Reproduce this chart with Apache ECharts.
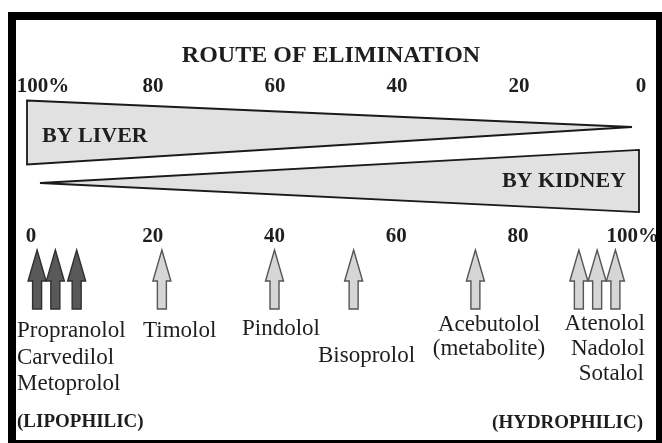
<!DOCTYPE html>
<html>
<head>
<meta charset="utf-8">
<script src="https://cdn.jsdelivr.net/npm/echarts@6/dist/echarts.min.js"></script>
<style>
  html, body { margin: 0; padding: 0; background: #fff; }
  #main { width: 662px; height: 443px; }
</style>
</head>
<body>
<div id="main"></div>
<script>
// bottom scale: % eliminated by the kidney
const drugs = ['Propranolol', 'Carvedilol', 'Metoprolol', 'Timolol', 'Pindolol',
  'Bisoprolol', 'Acebutolol', 'Atenolol', 'Nadolol', 'Sotalol']
const renalPct = [1, 4, 7.5, 21.5, 40, 53, 73, 90, 93, 96]
const lipophilic = [true, true, true, false, false, false, false, false, false, false]

// wedges, top scale (% by liver) at the two ends
const liverPct = [100, 0]
const liverBand = [100, 0]
const kidneyBand = [0, 100]

const tickValues = [0, 20, 40, 60, 80, 100]

const serif = 'Liberation Serif, Times New Roman, serif'
const ink = '#1e1e1e'

// where each name sits: [x, y, align]
const nameLayout = {
  Propranolol: [17, 331, 'left'],
  Carvedilol: [17, 358, 'left'],
  Metoprolol: [17, 384, 'left'],
  Timolol: [143, 331, 'left'],
  Pindolol: [242, 329, 'left'],
  Bisoprolol: [318, 356, 'left'],
  Acebutolol: [489, 325, 'center'],
  Atenolol: [645, 324, 'right'],
  Nadolol: [645, 349, 'right'],
  Sotalol: [644, 374, 'right'],
}
const nameText = { Acebutolol: 'Acebutolol\n(metabolite)' }

var myChart = echarts.init(document.getElementById('main'))

function tickLabel(v) {
  if (tickValues.indexOf(v) < 0) return ''
  return v === 100 ? '{p|100%}' : String(v)
}

const axisLabelBase = {
  fontFamily: serif, fontSize: 21, fontWeight: 'bold', color: ink, margin: 3,
}

var option = {
  animation: false,
  backgroundColor: '#fff',
  title: {
    text: 'ROUTE OF ELIMINATION',
    left: 'center',
    top: 39,
    textStyle: { fontFamily: serif, fontSize: 24, fontWeight: 'bold', color: ink },
  },
  grid: [
    { left: 31, right: 21, top: 100, height: 64 },
    { left: 31, right: 21, top: 250, height: 60 },
  ],
  xAxis: [
    {
      gridIndex: 0, type: 'value', min: 0, max: 100, interval: 20, inverse: true, position: 'top',
      axisLine: { show: false }, axisTick: { show: false }, splitLine: { show: false },
      axisLabel: Object.assign({}, axisLabelBase, {
        formatter: tickLabel,
        rich: { p: { fontFamily: serif, fontSize: 21, fontWeight: 'bold', color: ink, padding: [0, 0, 0, 24] } },
      }),
    },
    {
      gridIndex: 1, type: 'value', min: 0, max: 100, interval: 20, position: 'top',
      axisLine: { show: false }, axisTick: { show: false }, splitLine: { show: false },
      axisLabel: Object.assign({}, axisLabelBase, {
        formatter: tickLabel,
        rich: { p: { fontFamily: serif, fontSize: 21, fontWeight: 'bold', color: ink, padding: [0, 14, 0, 0] } },
      }),
    },
  ],
  yAxis: [
    { gridIndex: 0, type: 'value', min: 0, max: 100, show: false },
    { gridIndex: 1, type: 'value', min: 0, max: 1, show: false },
  ],
  series: [
    {
      name: 'By liver',
      type: 'custom',
      xAxisIndex: 0, yAxisIndex: 0, clip: false,
      data: [[liverPct[0], liverBand[0], liverPct[1], liverBand[1]]],
      renderItem: function (params, api) {
        const x0 = api.coord([api.value(0), 0])[0] - 4
        const x1 = api.coord([api.value(2), 0])[0] - 9
        const h0 = api.size([0, api.value(1)])[1]
        const h1 = api.size([0, api.value(3)])[1]
        const c0 = 132.5, c1 = 127
        return {
          type: 'group',
          children: [
            {
              type: 'polygon',
              shape: { points: [[x0, c0 - h0 / 2], [x1, c1 - h1 / 2], [x1, c1 + h1 / 2], [x0, c0 + h0 / 2]] },
              style: { fill: '#e1e1e1', stroke: '#1a1a1a', lineWidth: 1.8 },
            },
            {
              type: 'text',
              style: { text: 'BY LIVER', x: 42, y: 136, align: 'left', verticalAlign: 'middle',
                font: 'bold 22px ' + serif, fill: ink },
            },
          ],
        }
      },
    },
    {
      name: 'By kidney',
      type: 'custom',
      xAxisIndex: 0, yAxisIndex: 0, clip: false,
      data: [[liverPct[0], kidneyBand[0], liverPct[1], kidneyBand[1]]],
      renderItem: function (params, api) {
        const x0 = api.coord([api.value(0), 0])[0] + 9
        const x1 = api.coord([api.value(2), 0])[0] - 2
        const h0 = api.size([0, api.value(1)])[1] * 0.97
        const h1 = api.size([0, api.value(3)])[1] * 0.97
        const c0 = 183, c1 = 181
        return {
          type: 'group',
          children: [
            {
              type: 'polygon',
              shape: { points: [[x0, c0 - h0 / 2], [x1, c1 - h1 / 2], [x1, c1 + h1 / 2], [x0, c0 + h0 / 2]] },
              style: { fill: '#e1e1e1', stroke: '#1a1a1a', lineWidth: 1.8 },
            },
            {
              type: 'text',
              style: { text: 'BY KIDNEY', x: 626, y: 181, align: 'right', verticalAlign: 'middle',
                font: 'bold 22px ' + serif, fill: ink },
            },
          ],
        }
      },
    },
    {
      name: 'Drugs',
      type: 'custom',
      xAxisIndex: 1, yAxisIndex: 1, clip: false,
      data: renalPct.map(function (v, i) { return [v, i] }),
      renderItem: function (params, api) {
        const i = api.value(1)
        const cx = api.coord([api.value(0), 0])[0]
        const yt = 250, yh = 281, yb = 309, hw = 9, sw = 4.5
        const dark = lipophilic[i]
        const name = drugs[i]
        const lay = nameLayout[name]
        return {
          type: 'group',
          children: [
            {
              type: 'polygon',
              shape: { points: [[cx, yt], [cx + hw, yh], [cx + sw, yh], [cx + sw, yb],
                [cx - sw, yb], [cx - sw, yh], [cx - hw, yh]] },
              style: dark
                ? { fill: '#595959', stroke: '#303030', lineWidth: 1.4 }
                : { fill: '#d6d6d6', stroke: '#555', lineWidth: 1.4 },
            },
            {
              type: 'text',
              style: { text: nameText[name] || name, x: lay[0], y: lay[1], align: lay[2],
                verticalAlign: 'top', lineHeight: 24, font: '23px ' + serif, fill: ink },
              position: [0, -12],
            },
          ],
        }
      },
    },
  ],
  graphic: [
    { type: 'text', left: 17, top: 413, z: 50,
      style: { text: '(LIPOPHILIC)', font: 'bold 19px ' + serif, fill: ink } },
    { type: 'text', right: 19, top: 414, z: 50,
      style: { text: '(HYDROPHILIC)', font: 'bold 19px ' + serif, fill: ink } },
    // black frame
    { type: 'rect', z: 100, shape: { x: 8, y: 12, width: 654, height: 8 }, style: { fill: '#000' } },
    { type: 'rect', z: 100, shape: { x: 8, y: 12, width: 8, height: 431 }, style: { fill: '#000' } },
    { type: 'rect', z: 100, shape: { x: 656, y: 12, width: 6, height: 431 }, style: { fill: '#000' } },
    { type: 'rect', z: 100, shape: { x: 8, y: 440, width: 654, height: 3 }, style: { fill: '#000' } },
  ],
}

myChart.setOption(option)
</script>
</body>
</html>
